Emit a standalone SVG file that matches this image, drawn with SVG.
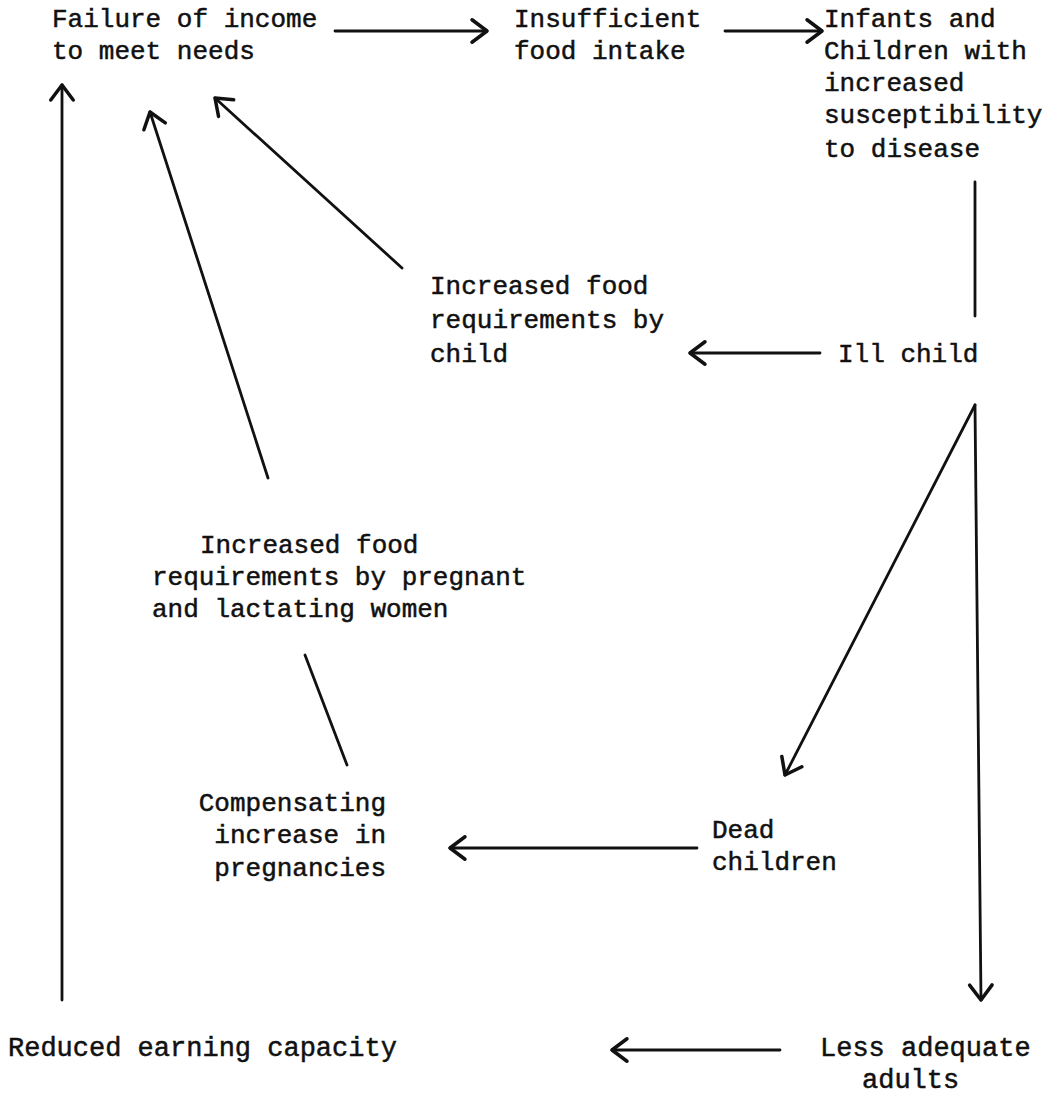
<svg xmlns="http://www.w3.org/2000/svg" width="1062" height="1115" viewBox="0 0 1062 1115">
<style>
text{font-family:"Liberation Mono","DejaVu Sans Mono",monospace;font-size:26px;fill:#111;stroke:#111;stroke-width:0.5;}
.big{font-size:27px;}
.c line{stroke:#111;stroke-width:2.8;stroke-linecap:round;fill:none;}
</style>
<defs>
<marker id="ah" markerUnits="userSpaceOnUse" markerWidth="30" markerHeight="30" refX="0" refY="0" viewBox="-16 -12 20 24" orient="auto">
<path d="M-12,-9 L0,0 L-12,9" fill="none" stroke="#111" stroke-width="2.8" stroke-linecap="round" stroke-linejoin="round"/>
</marker>
</defs>
<rect width="1062" height="1115" fill="#fff"/>
<g id="n-failure"><text x="52" y="27">Failure of income</text><text x="52" y="59">to meet needs</text></g>
<g id="n-insufficient"><text x="514" y="27">Insufficient</text><text x="514" y="59">food intake</text></g>
<g id="n-infants"><text x="824" y="27">Infants and</text><text x="824" y="59">Children with</text><text x="824" y="91">increased</text><text x="824" y="123">susceptibility</text><text x="824" y="157">to disease</text></g>
<g id="n-ill"><text x="838" y="362">Ill child</text></g>
<g id="n-childreq"><text x="430" y="294">Increased food</text><text x="430" y="328">requirements by</text><text x="430" y="362">child</text></g>
<g id="n-womenreq"><text x="200" y="553">Increased food</text><text x="152" y="585">requirements by pregnant</text><text x="152" y="617">and lactating women</text></g>
<g id="n-comp"><text x="386" y="811" text-anchor="end">Compensating</text><text x="386" y="843" text-anchor="end">increase in</text><text x="386" y="876" text-anchor="end">pregnancies</text></g>
<g id="n-dead"><text x="712" y="838">Dead</text><text x="712" y="870">children</text></g>
<g id="n-reduced"><text class="big" x="8" y="1056">Reduced earning capacity</text></g>
<g id="n-less"><text class="big" x="820" y="1056">Less adequate</text><text class="big" x="862" y="1088">adults</text></g>
<g class="c" id="connectors">
<line x1="335" y1="31" x2="487" y2="31" marker-end="url(#ah)"/>
<line x1="725" y1="31" x2="822" y2="31" marker-end="url(#ah)"/>
<line x1="975" y1="182" x2="975" y2="316"/>
<line x1="820" y1="353" x2="690" y2="353" marker-end="url(#ah)"/>
<line x1="402" y1="268" x2="215" y2="98" marker-end="url(#ah)"/>
<line x1="268" y1="478" x2="150" y2="112" marker-end="url(#ah)"/>
<line x1="62" y1="1000" x2="62" y2="85" marker-end="url(#ah)"/>
<line x1="305" y1="655" x2="347" y2="765"/>
<line x1="975" y1="405" x2="785" y2="775" marker-end="url(#ah)"/>
<line x1="975" y1="405" x2="981" y2="1000" marker-end="url(#ah)"/>
<line x1="697" y1="848" x2="450" y2="848" marker-end="url(#ah)"/>
<line x1="780" y1="1050" x2="612" y2="1050" marker-end="url(#ah)"/>
</g>
</svg>
